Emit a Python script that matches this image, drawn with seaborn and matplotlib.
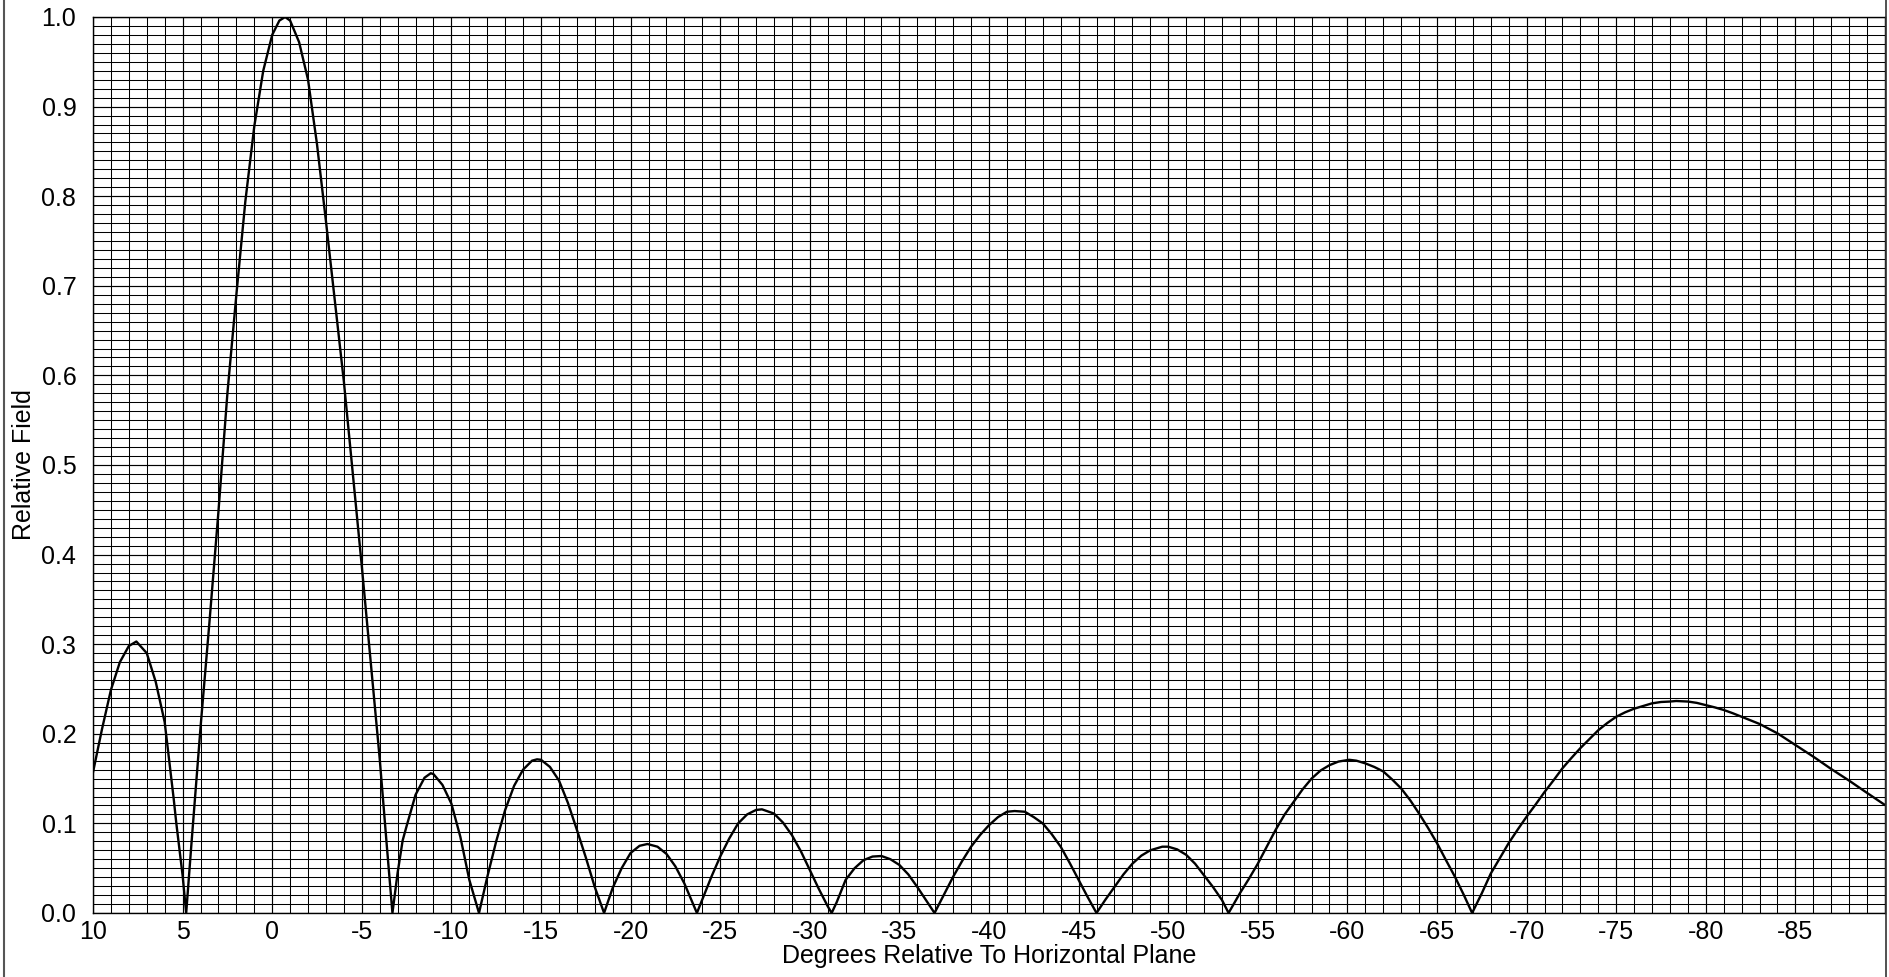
import matplotlib
matplotlib.use("Agg")
import matplotlib.pyplot as plt
from matplotlib.lines import Line2D
from matplotlib.ticker import MultipleLocator
import seaborn as sns
import pandas as pd

degrees = [10, 9.5, 9, 8.5, 8, 7.58, 7, 6.5, 6, 5.5, 5.35, 5, 4.8,
           4.5, 4, 3.5, 3, 2.5, 2, 1.5, 1, 0.5, 0, -0.4, -0.72, -1, -1.5, -2, -2.5, -3, -3.5,
           -4, -4.5, -5, -5.5, -6, -6.4, -6.71,
           -7, -7.28, -7.5, -8, -8.5, -8.85, -9, -9.5, -10, -10.5, -11, -11.54,
           -12, -12.5, -13, -13.5, -14, -14.5, -14.78, -15, -15.5, -16, -16.5, -17, -17.5, -18, -18.52,
           -19, -19.5, -20, -20.5, -20.94, -21.5, -22, -22.5, -23, -23.7,
           -24, -24.5, -25, -25.5, -26, -26.5, -27, -27.33, -28, -28.5, -29, -29.5, -30, -30.5, -31, -31.22,
           -31.5, -32, -32.5, -33, -33.5, -34, -34.5, -35, -35.5, -36, -36.5, -36.96,
           -37.5, -38, -38.5, -39, -39.5, -40, -40.5, -41, -41.43, -42, -42.5, -43, -43.5, -44, -44.5,
           -45, -45.5, -46,
           -46.5, -47, -47.5, -48, -48.5, -49, -49.67, -50, -50.5, -51, -51.5, -52, -52.5, -53, -53.37,
           -54, -54.5, -55, -55.5, -56, -56.5, -57, -57.5, -58, -58.5, -59, -59.5, -60.1, -60.5, -61,
           -61.5, -62, -62.5, -63, -63.5, -64, -64.5, -65, -65.5, -66, -66.5, -66.96,
           -67.5, -68, -68.5, -69, -69.5, -70, -70.5, -71, -71.5, -72, -72.5, -73, -73.5, -74, -74.5,
           -75, -75.5, -76, -76.5, -77, -77.5, -78, -78.35, -79, -79.5, -80, -80.5, -81, -81.5, -82,
           -83, -84, -85, -86, -87, -88, -89, -90]
relative_field = [0.157, 0.205, 0.249, 0.280, 0.298, 0.303, 0.290, 0.258, 0.213, 0.128, 0.10, 0.042, 0.0,
                  0.079, 0.207, 0.325, 0.448, 0.58, 0.69, 0.794, 0.878, 0.94, 0.98, 0.996, 1.0, 0.996,
                  0.972, 0.93, 0.858, 0.772, 0.682,
                  0.593, 0.49, 0.387, 0.28, 0.172, 0.074, 0.0,
                  0.045, 0.081, 0.097, 0.132, 0.151, 0.156, 0.155, 0.143, 0.122, 0.085, 0.037, 0.0,
                  0.04, 0.08, 0.115, 0.142, 0.160, 0.170, 0.1715, 0.171, 0.163, 0.148, 0.123, 0.093,
                  0.062, 0.029, 0.0,
                  0.028, 0.05, 0.067, 0.075, 0.077, 0.074, 0.066, 0.052, 0.033, 0.0,
                  0.015, 0.04, 0.063, 0.083, 0.100, 0.110, 0.115, 0.1157, 0.111, 0.101, 0.087, 0.069,
                  0.048, 0.027, 0.0075, 0.0,
                  0.012, 0.037, 0.05, 0.059, 0.063, 0.0636, 0.060, 0.0536, 0.043, 0.029, 0.014, 0.0,
                  0.021, 0.0405, 0.058, 0.074, 0.087, 0.098, 0.107, 0.113, 0.1138, 0.113, 0.107, 0.100,
                  0.088, 0.074, 0.056, 0.037, 0.018, 0.0,
                  0.015, 0.029, 0.043, 0.055, 0.064, 0.070, 0.074, 0.074, 0.071, 0.065, 0.055, 0.042,
                  0.029, 0.0145, 0.0,
                  0.022, 0.038, 0.055, 0.074, 0.093, 0.110, 0.124, 0.138, 0.150, 0.159, 0.165, 0.169,
                  0.171, 0.170, 0.167, 0.163, 0.158, 0.149, 0.139, 0.126, 0.111, 0.095, 0.078, 0.059,
                  0.0405, 0.020, 0.0,
                  0.022, 0.044, 0.061, 0.078, 0.093, 0.1075, 0.121, 0.135, 0.148, 0.1615, 0.173, 0.184,
                  0.194, 0.204, 0.212, 0.219, 0.224, 0.228, 0.231, 0.234, 0.2355, 0.236, 0.2366, 0.236,
                  0.2345, 0.232, 0.2295, 0.2266, 0.223, 0.219,
                  0.211, 0.2005, 0.1875, 0.1745, 0.1607, 0.1477, 0.134, 0.1205]

x_ticks = [10, 5, 0, -5, -10, -15, -20, -25, -30, -35, -40, -45, -50, -55, -60, -65, -70, -75, -80, -85]
x_tick_labels = ["10", "5", "0", "-5", "-10", "-15", "-20", "-25", "-30", "-35", "-40", "-45",
                 "-50", "-55", "-60", "-65", "-70", "-75", "-80", "-85"]
y_ticks = [0.0, 0.1, 0.2, 0.3, 0.4, 0.5, 0.6, 0.7, 0.8, 0.9, 1.0]
y_tick_labels = ["0.0", "0.1", "0.2", "0.3", "0.4", "0.5", "0.6", "0.7", "0.8", "0.9", "1.0"]
x_label = "Degrees Relative To Horizontal Plane"
y_label = "Relative Field"

sns.set_theme(style="white")
plt.rcParams["font.family"] = ["Liberation Sans", "DejaVu Sans"]
plt.rcParams["axes.unicode_minus"] = False

df = pd.DataFrame({"deg": degrees, "field": relative_field})

W, H = 1889, 977
fig = plt.figure(figsize=(W / 100, H / 100), dpi=100)
ax = fig.add_axes([93 / W, (H - 913) / H, (1885 - 93) / W, (913 - 17) / H])

sns.lineplot(data=df, x="deg", y="field", ax=ax, color="black", linewidth=1.7,
             estimator=None, sort=False, zorder=5)

ax.set_xlim(10, -90)
ax.set_ylim(0, 1.0)
ax.set_xticks(x_ticks)
ax.set_xticklabels(x_tick_labels)
ax.set_yticks(y_ticks)
ax.set_yticklabels(y_tick_labels)
ax.xaxis.set_minor_locator(MultipleLocator(1))
ax.yaxis.set_minor_locator(MultipleLocator(0.01))
ax.grid(which="major", color="black", linewidth=0.85)
ax.grid(which="minor", color="black", linewidth=0.75)
ax.tick_params(which="both", length=0)
ax.tick_params(axis="x", labelsize=18, pad=5, colors="black")
ax.tick_params(axis="y", labelsize=18, pad=12, colors="black")
ax.set_xlabel(x_label, fontsize=18, color="black", labelpad=0)
ax.set_ylabel(y_label, fontsize=18, color="black", labelpad=4)
for s in ax.spines.values():
    s.set_color("black")
    s.set_linewidth(1.0)
    s.set_visible(True)

fig.add_artist(Line2D([3.5 / W, 3.5 / W], [0, 1], transform=fig.transFigure, color="#555555", linewidth=1.5))
fig.add_artist(Line2D([1885.5 / W, 1885.5 / W], [0, 1], transform=fig.transFigure, color="#333333", linewidth=1.2))

fig.savefig("out.png", dpi=100, facecolor="white")
